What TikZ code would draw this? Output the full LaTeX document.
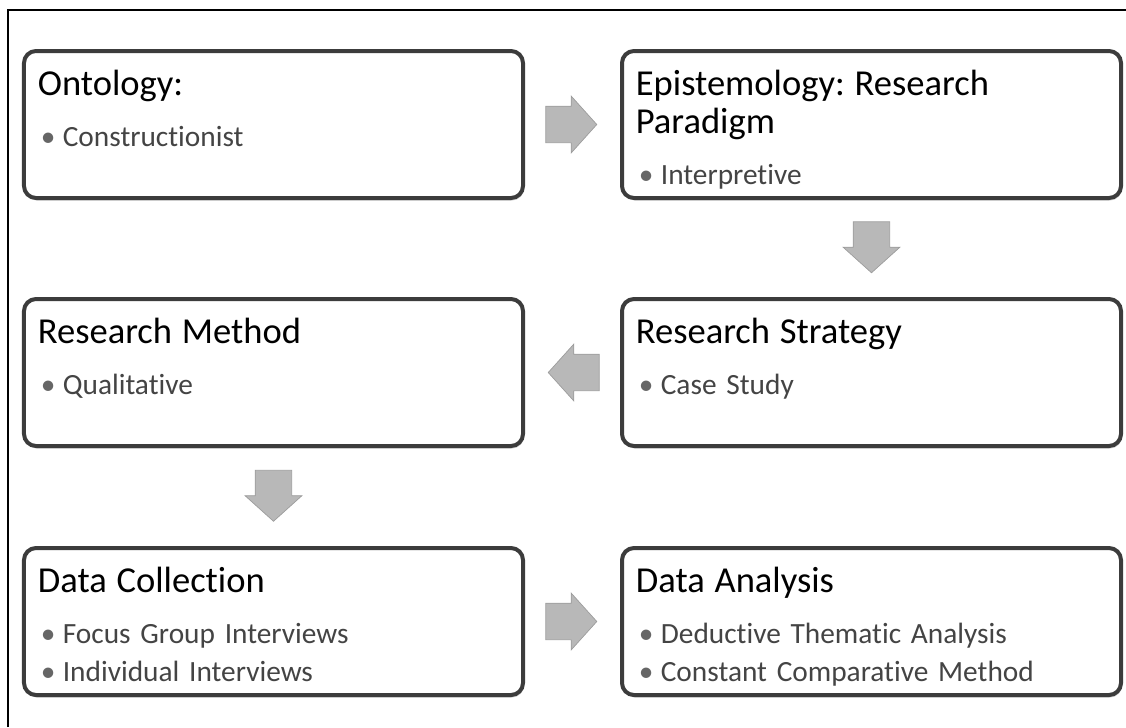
\documentclass[tikz,border=0pt]{standalone}
\usepackage{fontspec}
\setmainfont[Ligatures = NoCommon]{Carlito}
\usetikzlibrary{shapes.arrows, shadows, calc, positioning}
\frenchspacing

\definecolor{boxLine}{HTML}{3C3C3C}
\definecolor{arrowFill}{HTML}{B8B8B8}
\definecolor{arrowLine}{HTML}{9C9C9C}
\definecolor{bodyText}{HTML}{444444}

\newcommand{\titlefont}{\fontsize{20.8}{21.6}\selectfont\color{black}}
\newcommand{\firstline}{\rule{0pt}{0.8cm}}
\newcommand{\bitem}[1]{\hspace*{0.06cm}\makebox[0.44cm][l]{\textcolor{black!60}{\textbullet}}#1}

\tikzset{
	stage/.style = {draw = boxLine, line width = 0.08cm, rounded corners = 0.24cm, fill = white,
		minimum width = 9.98cm, minimum height = 2.94cm,
		drop shadow = {shadow xshift = 0.02cm, shadow yshift = -0.05cm, opacity = 0.3, fill = black!60}},
	stagetext/.style = {inner sep = 0, text width = 9.4cm, align = left, text = bodyText,
		font = \fontsize{16.7}{21.6}\selectfont},
	blockarrow/.style = {single arrow, draw = arrowLine, fill = arrowFill, line width = 0.4pt,
		inner xsep = 0, inner ysep = 0.36cm, minimum height = 1.02cm,
		single arrow head extend = 0.2cm, single arrow tip angle = 96},
	downarrow/.style = {blockarrow, shape border rotate = 270, inner xsep = 0.36cm, inner ysep = 0}
}

\begin{document}
\begin{tikzpicture}
	\useasboundingbox (-5.47, -12.05) rectangle (17.05, 2.49);
	\draw [line width = 0.8pt] (-5.31, -12.05) |- (17.05, 2.29);

	\node [stage] (ontology) {};
	\node [stage, right = 1.9 of ontology] (epistemology) {};
	\node [stage, below = 1.94 of ontology] (method) {};
	\node [stage, right = 1.9 of method] (strategy) {};
	\node [stage, below = 1.96 of method] (collection) {};
	\node [stage, right = 1.9 of collection] (analysis) {};

	\node [stagetext, below right = 0.12 and 0.31 of ontology.north west] (ontologyText)
		{{\titlefont\firstline Ontology:}\\[7.4pt]\bitem{Constructionist}};
	\node [stagetext, below right = 0.12 and 0.31 of epistemology.north west] (epistemologyText)
		{{\titlefont\firstline Epistemology: Research\\Paradigm}\\[7.4pt]\bitem{Interpretive}};
	\node [stagetext, below right = 0.12 and 0.31 of method.north west] (methodText)
		{{\titlefont\firstline Research Method}\\[7.4pt]\bitem{Qualitative}};
	\node [stagetext, below right = 0.12 and 0.31 of strategy.north west] (strategyText)
		{{\titlefont\firstline Research Strategy}\\[7.4pt]\bitem{Case Study}};
	\node [stagetext, below right = 0.12 and 0.31 of collection.north west] (collectionText)
		{{\titlefont\firstline Data Collection}\\[7.4pt]\bitem{Focus Group Interviews}\\\bitem{Individual Interviews}};
	\node [stagetext, below right = 0.12 and 0.31 of analysis.north west] (analysisText)
		{{\titlefont\firstline Data Analysis}\\[7.4pt]\bitem{Deductive Thematic Analysis}\\\bitem{Constant Comparative Method}};

	\node [blockarrow, xshift = -0.19cm] (ontoToEpis) at ($(ontology.east)!0.5!(epistemology.west)$) {};
	\node [downarrow, yshift = 0.19cm] (episToStrat) at ($(epistemology.south)!0.5!(strategy.north)$) {};
	\node [blockarrow, shape border rotate = 180, xshift = 0.19cm] (stratToMeth) at ($(strategy.west)!0.5!(method.east)$) {};
	\node [downarrow, yshift = 0.19cm] (methToColl) at ($(method.south)!0.5!(collection.north)$) {};
	\node [blockarrow, xshift = -0.19cm] (collToAnal) at ($(collection.east)!0.5!(analysis.west)$) {};
\end{tikzpicture}
\end{document}
